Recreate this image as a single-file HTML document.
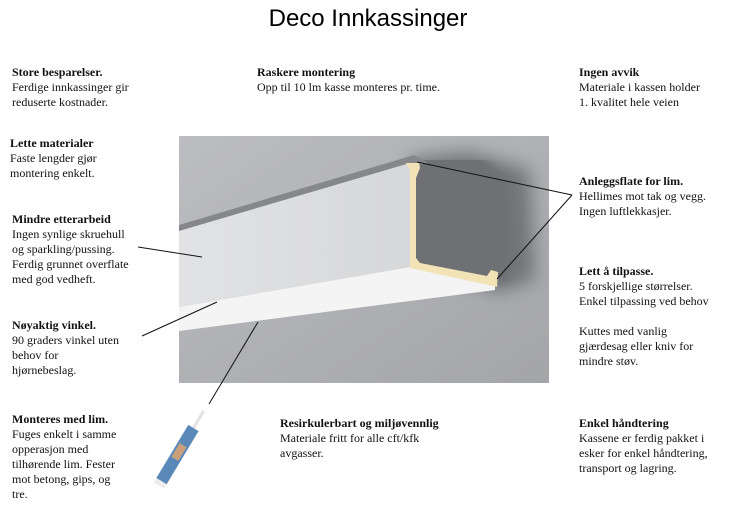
<!DOCTYPE html>
<html><head><meta charset="utf-8"><style>
body{margin:0;width:736px;height:521px;background:#fff;position:relative;overflow:hidden;font-family:"Liberation Serif",serif;font-size:12px;line-height:15px;color:#111}
.t{position:absolute;white-space:nowrap}
b{font-weight:bold}
h1{position:absolute;left:0;width:736px;top:5px;margin:0;text-align:center;font:24px "Liberation Sans",sans-serif;color:#000}
svg{position:absolute;left:0;top:0}
</style></head><body>
<h1>Deco Innkassinger</h1>
<svg width="736" height="521">
<defs>
<linearGradient id="bg" x1="0" y1="0" x2="1" y2="1"><stop offset="0" stop-color="#bcbdc0"/><stop offset="1" stop-color="#a4a5a8"/></linearGradient>
<linearGradient id="fr" x1="0" y1="0" x2="1" y2="0"><stop offset="0" stop-color="#e2e3e5"/><stop offset="1" stop-color="#d6d7d9"/></linearGradient>
<filter id="bl" x="-30%" y="-30%" width="160%" height="160%"><feGaussianBlur stdDeviation="9"/></filter>
<filter id="bl2" x="-30%" y="-30%" width="160%" height="160%"><feGaussianBlur stdDeviation="4"/></filter>
<clipPath id="cp"><rect x="179" y="136" width="370" height="247"/></clipPath>
<clipPath id="cp2"><polygon points="416,160 560,160 560,300 416,270"/></clipPath>
</defs>
<rect x="179" y="136" width="370" height="247" fill="url(#bg)"/>
<g clip-path="url(#cp)">
<polygon points="410,158 470,152 530,170 535,280 500,292 416,268" fill="#727377" filter="url(#bl)"/>
<g clip-path="url(#cp2)"><polygon points="405,155 478,155 505,175 508,282 405,282" fill="#6e6f73" filter="url(#bl2)"/></g>
</g>
<polygon points="179,225 414,155 428,163 179,232" fill="#86878b"/>
<polygon points="179,231 410,163 410,267 179,307" fill="url(#fr)"/>
<polygon points="179,307 410,267 495,284 495,290 179,331" fill="#f4f4f5"/>
<path d="M406,163 L419,163 L420,168 L416,178 L416,258 L420,263 L487,276 L491,270 L498,272 L497,287 L410,268 L410,170 Z" fill="#f2e3b6"/>
<g stroke="#111" stroke-width="1" fill="none">
<line x1="138" y1="247" x2="202" y2="257"/>
<line x1="142" y1="336" x2="217" y2="302"/>
<line x1="209" y1="404" x2="258" y2="322"/>
<line x1="417" y1="162" x2="572" y2="195"/>
<line x1="497" y1="279" x2="572" y2="195"/>
</g>
<g transform="translate(179,452) rotate(31)">
<rect x="-1.5" y="-48" width="3" height="20" fill="#e2e2e2"/>
<rect x="-6" y="-28" width="12" height="62" fill="#5a88b8"/>
<rect x="-4" y="-8" width="8" height="16" fill="#c9a07a"/>
<rect x="-6" y="34" width="12" height="5" fill="#ececec"/>
</g>
</svg>
<div class="t" style="left:12px;top:65px"><b>Store besparelser.</b><br>Ferdige innkassinger gir<br>reduserte kostnader.</div>
<div class="t" style="left:257px;top:65px"><b>Raskere montering</b><br>Opp til 10 lm kasse monteres pr. time.</div>
<div class="t" style="left:579px;top:65px"><b>Ingen avvik</b><br>Materiale i kassen holder<br>1. kvalitet hele veien</div>
<div class="t" style="left:10px;top:136px"><b>Lette materialer</b><br>Faste lengder gjør<br>montering enkelt.</div>
<div class="t" style="left:12px;top:212px"><b>Mindre etterarbeid</b><br>Ingen synlige skruehull<br>og sparkling/pussing.<br>Ferdig grunnet overflate<br>med god vedheft.</div>
<div class="t" style="left:579px;top:174px"><b>Anleggsflate for lim.</b><br>Hellimes mot tak og vegg.<br>Ingen luftlekkasjer.</div>
<div class="t" style="left:579px;top:264px"><b>Lett å tilpasse.</b><br>5 forskjellige størrelser.<br>Enkel tilpassing ved behov<br><br>Kuttes med vanlig<br>gjærdesag eller kniv for<br>mindre støv.</div>
<div class="t" style="left:12px;top:318px"><b>Nøyaktig vinkel.</b><br>90 graders vinkel uten<br>behov for<br>hjørnebeslag.</div>
<div class="t" style="left:12px;top:412px"><b>Monteres med lim.</b><br>Fuges enkelt i samme<br>opperasjon med<br>tilhørende lim. Fester<br>mot betong, gips, og<br>tre.</div>
<div class="t" style="left:280px;top:416px"><b>Resirkulerbart og miljøvennlig</b><br>Materiale fritt for alle cft/kfk<br>avgasser.</div>
<div class="t" style="left:579px;top:416px"><b>Enkel håndtering</b><br>Kassene er ferdig pakket i<br>esker for enkel håndtering,<br>transport og lagring.</div>
</body></html>
